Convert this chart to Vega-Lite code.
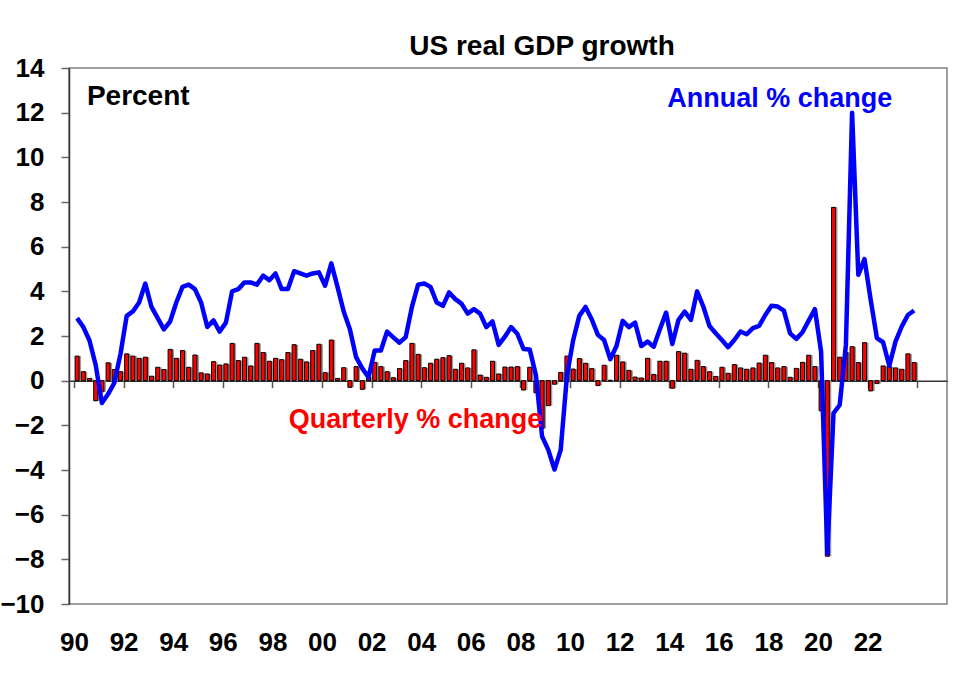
{
  "$schema": "https://vega.github.io/schema/vega-lite/v6.json",
  "width": 878,
  "height": 536,
  "autosize": {"type": "none"},
  "padding": {"left": 69, "top": 68, "right": 22, "bottom": 71},
  "background": "white",
  "config": {
    "view": {"stroke": "#808080", "strokeWidth": 1.5},
    "font": "Liberation Sans"
  },
  "title": {
    "text": "US real GDP growth",
    "fontSize": 28,
    "fontWeight": "bold",
    "color": "#000000",
    "anchor": "middle",
    "frame": "group",
    "dx": 34,
    "baseline": "alphabetic",
    "offset": -28
  },
  "data": {"values": [
    {"t":1990.125,"q":1.1,"a":2.8},{"t":1990.375,"q":0.4,"a":2.4},{"t":1990.625,"q":0.1,"a":1.8},{"t":1990.875,"q":-0.9,"a":0.7},
    {"t":1991.125,"q":-0.5,"a":-1.0},{"t":1991.375,"q":0.8,"a":-0.6},{"t":1991.625,"q":0.5,"a":-0.1},{"t":1991.875,"q":0.4,"a":1.2},
    {"t":1992.125,"q":1.2,"a":2.9},{"t":1992.375,"q":1.1,"a":3.1},{"t":1992.625,"q":1.0,"a":3.5},{"t":1992.875,"q":1.05,"a":4.35},
    {"t":1993.125,"q":0.2,"a":3.3},{"t":1993.375,"q":0.6,"a":2.8},{"t":1993.625,"q":0.5,"a":2.3},{"t":1993.875,"q":1.4,"a":2.65},
    {"t":1994.125,"q":1.0,"a":3.5},{"t":1994.375,"q":1.35,"a":4.2},{"t":1994.625,"q":0.6,"a":4.3},{"t":1994.875,"q":1.15,"a":4.1},
    {"t":1995.125,"q":0.35,"a":3.5},{"t":1995.375,"q":0.3,"a":2.4},{"t":1995.625,"q":0.85,"a":2.7},{"t":1995.875,"q":0.7,"a":2.2},
    {"t":1996.125,"q":0.75,"a":2.6},{"t":1996.375,"q":1.67,"a":4.0},{"t":1996.625,"q":0.9,"a":4.1},{"t":1996.875,"q":1.05,"a":4.4},
    {"t":1997.125,"q":0.66,"a":4.4},{"t":1997.375,"q":1.67,"a":4.3},{"t":1997.625,"q":1.26,"a":4.7},{"t":1997.875,"q":0.87,"a":4.5},
    {"t":1998.125,"q":1.0,"a":4.8},{"t":1998.375,"q":0.94,"a":4.1},{"t":1998.625,"q":1.26,"a":4.1},{"t":1998.875,"q":1.61,"a":4.9},
    {"t":1999.125,"q":0.96,"a":4.8},{"t":1999.375,"q":0.84,"a":4.7},{"t":1999.625,"q":1.35,"a":4.8},{"t":1999.875,"q":1.63,"a":4.85},
    {"t":2000.125,"q":0.36,"a":4.25},{"t":2000.375,"q":1.82,"a":5.25},{"t":2000.625,"q":0.1,"a":4.2},{"t":2000.875,"q":0.58,"a":3.1},
    {"t":2001.125,"q":-0.3,"a":2.3},{"t":2001.375,"q":0.63,"a":1.05},{"t":2001.625,"q":-0.39,"a":0.55},{"t":2001.875,"q":0.18,"a":0.15},
    {"t":2002.125,"q":0.82,"a":1.35},{"t":2002.375,"q":0.63,"a":1.35},{"t":2002.625,"q":0.4,"a":2.2},{"t":2002.875,"q":0.13,"a":1.94},
    {"t":2003.125,"q":0.54,"a":1.7},{"t":2003.375,"q":0.9,"a":1.95},{"t":2003.625,"q":1.67,"a":3.3},{"t":2003.875,"q":1.18,"a":4.3},
    {"t":2004.125,"q":0.58,"a":4.35},{"t":2004.375,"q":0.78,"a":4.2},{"t":2004.625,"q":0.96,"a":3.5},{"t":2004.875,"q":1.03,"a":3.35},
    {"t":2005.125,"q":1.12,"a":3.95},{"t":2005.375,"q":0.51,"a":3.65},{"t":2005.625,"q":0.78,"a":3.45},{"t":2005.875,"q":0.57,"a":3.0},
    {"t":2006.125,"q":1.38,"a":3.2},{"t":2006.375,"q":0.25,"a":3.0},{"t":2006.625,"q":0.15,"a":2.4},{"t":2006.875,"q":0.87,"a":2.65},
    {"t":2007.125,"q":0.3,"a":1.6},{"t":2007.375,"q":0.61,"a":1.97},{"t":2007.625,"q":0.61,"a":2.4},{"t":2007.875,"q":0.63,"a":2.1},
    {"t":2008.125,"q":-0.42,"a":1.42},{"t":2008.375,"q":0.6,"a":1.4},{"t":2008.625,"q":-0.54,"a":0.25},{"t":2008.875,"q":-2.14,"a":-2.5},
    {"t":2009.125,"q":-1.12,"a":-3.1},{"t":2009.375,"q":-0.16,"a":-3.98},{"t":2009.625,"q":0.37,"a":-3.1},{"t":2009.875,"q":1.1,"a":0.2},
    {"t":2010.125,"q":0.52,"a":1.8},{"t":2010.375,"q":0.99,"a":2.9},{"t":2010.625,"q":0.78,"a":3.3},{"t":2010.875,"q":0.54,"a":2.75},
    {"t":2011.125,"q":-0.22,"a":2.05},{"t":2011.375,"q":0.69,"a":1.82},{"t":2011.625,"q":0.02,"a":0.96},{"t":2011.875,"q":1.14,"a":1.55},
    {"t":2012.125,"q":0.84,"a":2.68},{"t":2012.375,"q":0.46,"a":2.4},{"t":2012.625,"q":0.16,"a":2.6},{"t":2012.875,"q":0.12,"a":1.55},
    {"t":2013.125,"q":1.0,"a":1.75},{"t":2013.375,"q":0.28,"a":1.52},{"t":2013.625,"q":0.87,"a":2.3},{"t":2013.875,"q":0.87,"a":3.05},
    {"t":2014.125,"q":-0.34,"a":1.64},{"t":2014.375,"q":1.3,"a":2.72},{"t":2014.625,"q":1.23,"a":3.09},{"t":2014.875,"q":0.51,"a":2.72},
    {"t":2015.125,"q":0.91,"a":4.0},{"t":2015.375,"q":0.63,"a":3.32},{"t":2015.625,"q":0.4,"a":2.45},{"t":2015.875,"q":0.19,"a":2.12},
    {"t":2016.125,"q":0.6,"a":1.82},{"t":2016.375,"q":0.33,"a":1.5},{"t":2016.625,"q":0.72,"a":1.82},{"t":2016.875,"q":0.57,"a":2.2},
    {"t":2017.125,"q":0.51,"a":2.08},{"t":2017.375,"q":0.57,"a":2.35},{"t":2017.625,"q":0.79,"a":2.45},{"t":2017.875,"q":1.14,"a":2.94},
    {"t":2018.125,"q":0.81,"a":3.35},{"t":2018.375,"q":0.57,"a":3.32},{"t":2018.625,"q":0.63,"a":3.14},{"t":2018.875,"q":0.15,"a":2.12},
    {"t":2019.125,"q":0.55,"a":1.87},{"t":2019.375,"q":0.82,"a":2.17},{"t":2019.625,"q":1.14,"a":2.69},{"t":2019.875,"q":0.63,"a":3.2},
    {"t":2020.125,"q":-1.35,"a":1.3},{"t":2020.375,"q":-7.86,"a":-7.74},{"t":2020.625,"q":7.76,"a":-1.46},{"t":2020.875,"q":1.05,"a":-1.09},
    {"t":2021.125,"q":1.27,"a":1.6},{"t":2021.375,"q":1.52,"a":12.0},{"t":2021.625,"q":0.81,"a":4.74},{"t":2021.875,"q":1.7,"a":5.44},
    {"t":2022.125,"q":-0.46,"a":3.62},{"t":2022.375,"q":-0.13,"a":1.9},{"t":2022.625,"q":0.66,"a":1.72},{"t":2022.875,"q":0.63,"a":0.67},
    {"t":2023.125,"q":0.57,"a":1.75},{"t":2023.375,"q":0.51,"a":2.42},{"t":2023.625,"q":1.2,"a":2.94},{"t":2023.875,"q":0.81,"a":3.14}
  ]},
  "layer": [
    {
      "mark": {"type": "bar", "width": 4, "fill": "#9a9a9a", "xOffset": 2},
      "encoding": {
        "x": {
          "field": "t", "type": "quantitative",
          "scale": {"domain": [1990, 2025], "nice": false, "zero": false},
          "axis": {
            "values": [1990,1992,1994,1996,1998,2000,2002,2004,2006,2008,2010,2012,2014,2016,2018,2020,2022,2024],
            "labelExpr": "datum.value < 2023 ? substring(toString(datum.value), 2, 4) : ''",
            "offset": -223.33,
            "domainColor": "#333333",
            "domainWidth": 1.5,
            "tickColor": "#555555",
            "tickWidth": 1.5,
            "tickSize": 7,
            "labelPadding": 242,
            "labelFontSize": 26,
            "labelFontWeight": "bold",
            "labelColor": "#000000",
            "labelFlush": false,
            "labelOverlap": false,
            "grid": false,
            "title": null
          }
        },
        "y": {
          "field": "q", "type": "quantitative",
          "scale": {"domain": [-10, 14], "nice": false},
          "axis": {
            "values": [-10,-8,-6,-4,-2,0,2,4,6,8,10,12,14],
            "tickSize": 8,
            "tickColor": "#666666",
            "tickWidth": 1.5,
            "domainColor": "#333333",
            "domainWidth": 1.5,
            "labelPadding": 17,
            "labelFontSize": 26,
            "labelFontWeight": "bold",
            "labelColor": "#000000",
            "grid": false,
            "title": null
          }
        }
      }
    },
    {
      "mark": {"type": "bar", "width": 4, "fill": "#ff0000", "stroke": "#000000", "strokeWidth": 1},
      "encoding": {
        "x": {"field": "t", "type": "quantitative"},
        "y": {"field": "q", "type": "quantitative"}
      }
    },
    {
      "mark": {"type": "line", "color": "#0000ff", "strokeWidth": 4.5, "strokeJoin": "round"},
      "encoding": {
        "x": {"field": "t", "type": "quantitative"},
        "y": {"field": "a", "type": "quantitative"}
      }
    },
    {
      "data": {"values": [{"label": "Percent"}]},
      "mark": {"type": "text", "align": "left", "baseline": "alphabetic", "fontSize": 28, "fontWeight": "bold", "color": "#000000"},
      "encoding": {"text": {"field": "label"}, "x": {"datum": 1990.52}, "y": {"datum": 12.34}}
    },
    {
      "data": {"values": [{"label": "Annual % change"}]},
      "mark": {"type": "text", "align": "center", "baseline": "alphabetic", "fontSize": 27, "fontWeight": "bold", "color": "#0000ff"},
      "encoding": {"text": {"field": "label"}, "x": {"datum": 2018.46}, "y": {"datum": 12.25}}
    },
    {
      "data": {"values": [{"label": "Quarterly % change"}]},
      "mark": {"type": "text", "align": "center", "baseline": "alphabetic", "fontSize": 27, "fontWeight": "bold", "color": "#ff0000"},
      "encoding": {"text": {"field": "label"}, "x": {"datum": 2003.77}, "y": {"datum": -2.14}}
    }
  ]
}
